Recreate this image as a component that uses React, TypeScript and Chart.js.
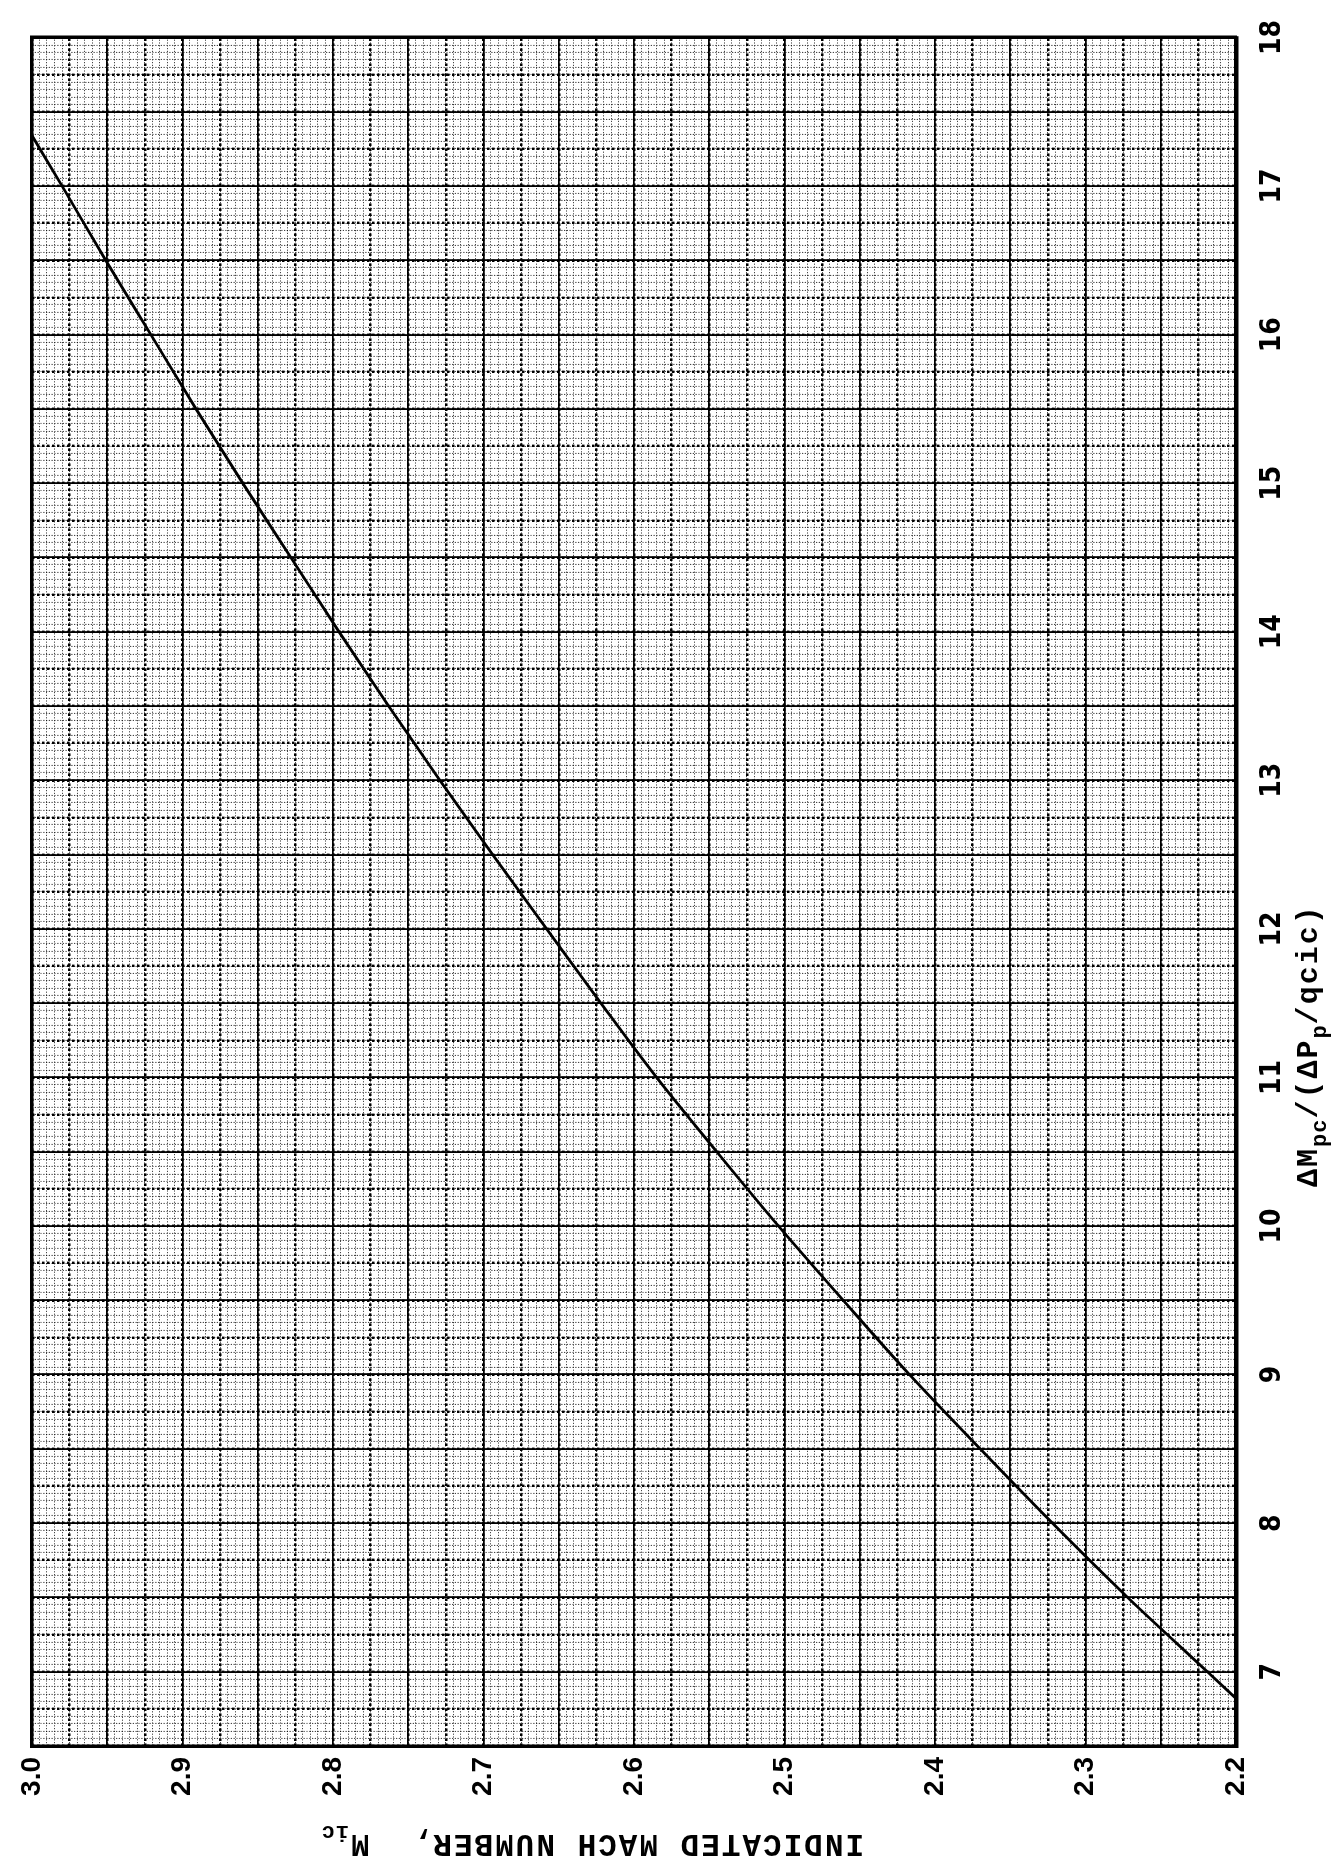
import React, { useEffect, useRef } from "react";
import { Chart, registerables } from "chart.js";

Chart.register(...registerables);

// ---- data ----
const ratioValues = [6.82, 7.0, 7.5, 8.0, 8.5, 9.0, 9.5, 10.0, 10.5, 11.0, 11.5, 12.0, 12.5, 13.0, 13.5, 14.0, 14.5, 15.0, 15.5, 16.0, 16.5, 17.0, 17.34];
const machValues = [2.2, 2.219, 2.272, 2.322, 2.37, 2.417, 2.461, 2.504, 2.545, 2.585, 2.622, 2.658, 2.694, 2.729, 2.763, 2.796, 2.828, 2.86, 2.891, 2.921, 2.951, 2.98, 3.0];
const xTickLabels = ["7", "8", "9", "10", "11", "12", "13", "14", "15", "16", "17", "18"];
const yTickLabels = ["2.2", "2.3", "2.4", "2.5", "2.6", "2.7", "2.8", "2.9", "3.0"];
const xTitleParts = [
  { text: "\u0394M", sub: false },
  { text: "pc", sub: true },
  { text: "/(\u0394P", sub: false },
  { text: "p", sub: true },
  { text: "/qcic)", sub: false },
];
const yTitleParts = [
  { text: "INDICATED MACH NUMBER,  M", sub: false },
  { text: "ic", sub: true },
];

// ---- layout (canvas is drawn landscape, then turned a quarter turn) ----
const CW = 1863;
const CH = 1344;
const X_MIN = 6.5;
const X_MAX = 18;
const Y_MIN = 2.2;
const Y_MAX = 3.0;

const TICK_FONT_X = { family: '"Liberation Sans Narrow", "DejaVu Sans Condensed", "Liberation Sans", sans-serif', size: 28, weight: "bold" as const };
const TICK_FONT_Y = { family: '"Liberation Sans", Arial, sans-serif', size: 28, weight: "bold" as const };
const TITLE_FONT = '"Liberation Mono", "DejaVu Sans Mono", monospace';

function drawParts(ctx: CanvasRenderingContext2D, parts: { text: string; sub: boolean }[], x0: number, y0: number, mainSize: number, subSize: number) {
  let x = x0;
  for (const p of parts) {
    ctx.font = `bold ${p.sub ? subSize : mainSize}px ${TITLE_FONT}`;
    (ctx as any).letterSpacing = p.sub ? "1px" : "2px";
    ctx.fillText(p.text, x, p.sub ? y0 + 9 : y0);
    x += ctx.measureText(p.text).width;
  }
}

const titlePlugin = {
  id: "rotatedTitles",
  afterDraw(chart: any) {
    const ctx: CanvasRenderingContext2D = chart.ctx;
    ctx.save();
    ctx.fillStyle = "#000";
    ctx.textBaseline = "alphabetic";
    ctx.textAlign = "left";
    drawParts(ctx, xTitleParts, 676, 1317, 30, 22);
    ctx.restore();

    ctx.save();
    ctx.fillStyle = "#000";
    ctx.textBaseline = "alphabetic";
    ctx.textAlign = "left";
    ctx.translate(28, 864);
    ctx.rotate(-Math.PI / 2);
    drawParts(ctx, yTitleParts, 0, 0, 31, 22);
    ctx.restore();
  },
};

function gridAxis(position: "bottom" | "left", min: number, max: number, step: number, color: string, width: number, dash: number[]) {
  return {
    type: "linear" as const,
    position,
    min,
    max,
    afterFit(scale: any) {
      if (position === "bottom") scale.height = 0;
      else scale.width = 0;
    },
    ticks: { display: false, stepSize: step, maxTicksLimit: 1000, autoSkip: false },
    grid: { display: true, drawTicks: false, color, lineWidth: width },
    border: { display: false, dash },
  };
}

export default function App() {
  const ref = useRef<HTMLCanvasElement | null>(null);

  useEffect(() => {
    if (!ref.current) return;
    const points = ratioValues.map((x, i) => ({ x, y: machValues[i] }));
    const chart = new Chart(ref.current, {
      type: "line",
      data: {
        datasets: [
          {
            data: points,
            xAxisID: "x",
            yAxisID: "y",
            borderColor: "#000",
            borderWidth: 2.8,
            pointRadius: 0,
            fill: false,
            cubicInterpolationMode: "monotone",
          },
        ],
      },
      plugins: [titlePlugin],
      options: {
        animation: false,
        responsive: false,
        devicePixelRatio: 1,
        layout: { padding: { top: 32, right: 29, left: 0, bottom: 0 } },
        plugins: { legend: { display: false }, tooltip: { enabled: false } },
        scales: {
          xFine: gridAxis("bottom", X_MIN, X_MAX, 0.05, "rgba(0,0,0,0.72)", 1.1, [1.2, 1.6]),
          yFine: gridAxis("left", Y_MIN, Y_MAX, 0.005, "rgba(0,0,0,0.72)", 1.1, [1.2, 1.6]),
          xMid: gridAxis("bottom", X_MIN, X_MAX, 0.25, "#000", 2.4, [2.6, 2.4]),
          yMid: gridAxis("left", Y_MIN, Y_MAX, 0.025, "#000", 2.4, [2.6, 2.4]),
          x: {
            type: "linear",
            position: "bottom",
            min: X_MIN,
            max: X_MAX,
            afterFit(scale: any) {
              scale.height = CH - 1236;
            },
            ticks: {
              stepSize: 0.5,
              maxTicksLimit: 1000,
              autoSkip: false,
              maxRotation: 0,
              minRotation: 0,
              padding: 20,
              color: "#000",
              font: TICK_FONT_X,
              callback: (v: any) => {
                const n = Number(v);
                if (Math.abs(n - Math.round(n)) > 1e-6) return "";
                const s = String(Math.round(n));
                return xTickLabels.includes(s) ? s : "";
              },
            },
            grid: { drawTicks: false, color: "#000", lineWidth: 1.8 },
            border: { display: true, color: "#000", width: 4.5 },
          },
          y: {
            type: "linear",
            position: "left",
            min: Y_MIN,
            max: Y_MAX,
            afterFit(scale: any) {
              scale.width = 117;
            },
            ticks: {
              stepSize: 0.05,
              maxTicksLimit: 1000,
              autoSkip: false,
              padding: 11,
              color: "#000",
              font: TICK_FONT_Y,
              callback: (v: any) => {
                const n = Number(v);
                if (Math.abs(n * 10 - Math.round(n * 10)) > 1e-6) return "";
                const s = n.toFixed(1);
                return yTickLabels.includes(s) ? s : "";
              },
            },
            grid: { drawTicks: false, color: "#000", lineWidth: 1.8 },
            border: { display: true, color: "#000", width: 3.5 },
          },
          xTop: {
            type: "linear",
            position: "top",
            min: X_MIN,
            max: X_MAX,
            afterFit(scale: any) {
              scale.height = 0;
            },
            ticks: { display: false },
            grid: { display: false, drawTicks: false },
            border: { display: true, color: "#000", width: 3.5 },
          },
          yRight: {
            type: "linear",
            position: "right",
            min: Y_MIN,
            max: Y_MAX,
            afterFit(scale: any) {
              scale.width = 0;
            },
            ticks: { display: false },
            grid: { display: false, drawTicks: false },
            border: { display: true, color: "#000", width: 3.5 },
          },
        },
      } as any,
    });
    return () => chart.destroy();
  }, []);

  return (
    <div style={{ position: "absolute", left: 0, top: 0, width: 1344, height: 1863, overflow: "hidden", background: "#fff" }}>
      <canvas
        ref={ref}
        width={CW}
        height={CH}
        style={{
          position: "absolute",
          left: 0,
          top: 0,
          width: CW,
          height: CH,
          transformOrigin: "0 0",
          transform: `translateY(${CW}px) rotate(-90deg)`,
        }}
      />
    </div>
  );
}
